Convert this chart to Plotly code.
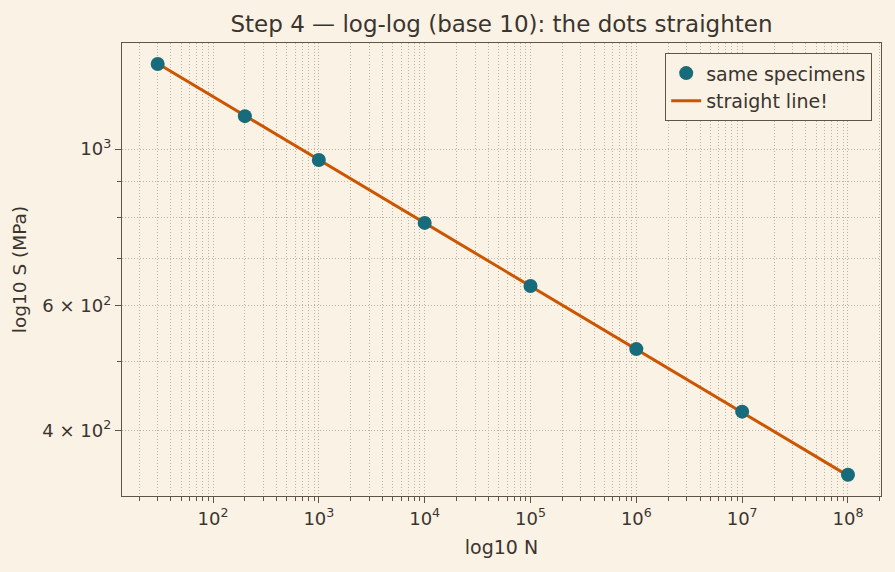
import plotly.graph_objects as go

# --- data ---
cycles_N = [30, 200, 1000, 1e4, 1e5, 1e6, 1e7, 1e8]
stress_S = [1319, 1113, 965, 786, 640, 521, 425, 346]
fit_N = [30, 1e8]
fit_S = [1321, 345]

x_major = [1e2, 1e3, 1e4, 1e5, 1e6, 1e7, 1e8]
x_major_text = ["10<sup>%d</sup>" % e for e in range(2, 9)]
y_major = [400, 600, 1000]
y_major_text = ["4 × 10<sup>2</sup>", "6 × 10<sup>2</sup>", "10<sup>3</sup>"]
y_minor = [500, 700, 800, 900]
x_minor = [k * 10 ** e for e in range(1, 9) for k in range(2, 10)
           if k * 10 ** e not in x_major]

BG = "#FAF2E4"
TXT = "#3B3530"
AX = "#5E5547"
GRID = "#BDB4A6"
TEAL = "#176B7A"
ORANGE = "#CC5500"
FONT = "DejaVu Sans"
DOT = "1px,2px"

fig = go.Figure()
fig.add_trace(go.Scatter(
    x=fit_N, y=fit_S, mode="lines", name="straight line!",
    line=dict(color=ORANGE, width=3), legendrank=2, legendgroup="b"))
fig.add_trace(go.Scatter(
    x=cycles_N, y=stress_S, mode="markers", name="same specimens",
    marker=dict(color=TEAL, size=14), legendrank=1, legendgroup="a"))

axis_common = dict(
    showline=True, linecolor=AX, linewidth=1.3, mirror=True,
    ticks="outside", ticklen=6, tickwidth=1.1, tickcolor=AX,
    showgrid=True, gridcolor=GRID, griddash=DOT, gridwidth=1,
    tickfont=dict(family=FONT, size=18, color=TXT),
    zeroline=False,
)

fig.update_xaxes(
    type="log", range=[1.140, 8.312],
    tickmode="array", tickvals=x_major, ticktext=x_major_text,
    minor=dict(tickmode="array", tickvals=x_minor, ticks="outside",
               ticklen=3.5, tickcolor=AX, showgrid=True, gridcolor=GRID,
               griddash=DOT, gridwidth=1),
    title=dict(text="log10 N", font=dict(family=FONT, size=19, color=TXT),
               standoff=12),
    **axis_common)
fig.update_yaxes(
    type="log", range=[2.509, 3.150],
    tickmode="array", tickvals=y_major, ticktext=y_major_text,
    minor=dict(tickmode="array", tickvals=y_minor, ticks="outside",
               ticklen=3.5, tickcolor=AX, showgrid=True, gridcolor=GRID,
               griddash=DOT, gridwidth=1),
    title=dict(text="log10 S (MPa)", font=dict(family=FONT, size=18.5, color=TXT),
               standoff=10),
    **axis_common)

fig.update_layout(
    width=895, height=572,
    margin=dict(l=122, r=14, t=43, b=76),
    paper_bgcolor=BG, plot_bgcolor=BG,
    font=dict(family=FONT, color=TXT, size=18),
    title=dict(text="Step 4 — log-log (base 10): the dots straighten",
               x=0.5, xref="paper", xanchor="center",
               y=1 - 24 / 572, yanchor="middle",
               font=dict(family=FONT, size=23, color=TXT)),
    legend=dict(x=0.988, y=0.978, xanchor="right", yanchor="top",
                bgcolor=BG, bordercolor=AX, borderwidth=1.3,
                font=dict(family=FONT, size=19, color=TXT),
                traceorder="grouped", tracegroupgap=0),
    showlegend=True,
)

fig.write_html("out.html")
